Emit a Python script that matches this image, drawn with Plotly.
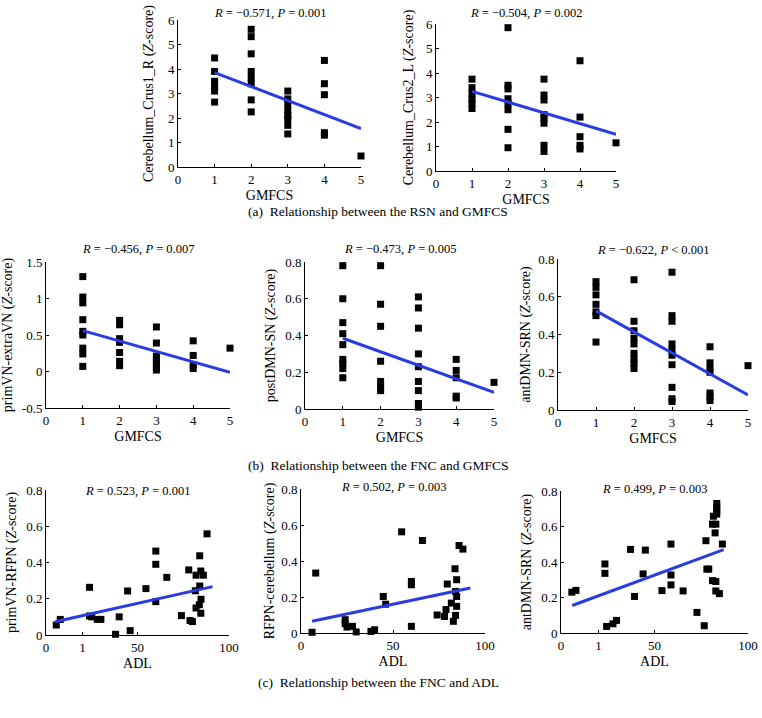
import plotly.graph_objects as go

W, H = 762, 718
FONT = "Liberation Serif"

# ---------------- data ----------------
a1_x = [1, 1, 1, 1, 1, 1, 2, 2, 2, 2, 2, 2, 2, 2, 3, 3, 3, 3, 3, 3, 3, 3, 4, 4, 4, 4, 4, 5]
a1_y = [4.45, 3.9, 3.5, 3.3, 3.1, 2.65, 5.62, 5.32, 4.62, 3.9, 3.65, 3.4, 2.74, 2.25,
        3.1, 2.78, 2.55, 2.3, 2.1, 1.95, 1.7, 1.35, 4.35, 3.4, 2.95, 1.4, 1.3, 0.45]
a1_fit_x = [1, 5]
a1_fit_y = [3.85, 1.57]

a2_x = [1, 1, 1, 1, 1, 1, 2, 2, 2, 2, 2, 2, 2, 2, 3, 3, 3, 3, 3, 3, 3, 3, 4, 4, 4, 4, 4, 5]
a2_y = [3.75, 3.4, 3.15, 2.95, 2.75, 2.55, 5.85, 3.5, 3.35, 2.95, 2.75, 2.5, 1.7, 0.95,
        3.75, 3.1, 2.9, 2.3, 2.15, 1.95, 1.05, 0.8, 4.5, 2.2, 1.4, 1.05, 0.9, 1.15]
a2_fit_x = [1, 5]
a2_fit_y = [3.25, 1.5]

b1_x = [1, 1, 1, 1, 1, 1, 1, 1, 1, 2, 2, 2, 2, 2, 2, 2, 3, 3, 3, 3, 3, 3, 3, 4, 4, 4, 4, 5]
b1_y = [1.3, 1.02, 0.94, 0.71, 0.55, 0.5, 0.32, 0.24, 0.07, 0.7, 0.64, 0.45, 0.4, 0.26, 0.14, 0.08,
        0.61, 0.39, 0.21, 0.16, 0.11, 0.06, 0.02, 0.42, 0.22, 0.09, 0.04, 0.32]
b1_fit_x = [1, 5]
b1_fit_y = [0.56, -0.01]

b2_x = [1, 1, 1, 1, 1, 1, 1, 1, 1, 2, 2, 2, 2, 2, 2, 2, 3, 3, 3, 3, 3, 3, 3, 3, 3, 4, 4, 4, 4, 4, 5]
b2_y = [0.78, 0.6, 0.47, 0.41, 0.35, 0.27, 0.25, 0.22, 0.17, 0.78, 0.57, 0.45, 0.26, 0.15, 0.12, 0.1,
        0.61, 0.55, 0.44, 0.3, 0.23, 0.15, 0.1, 0.03, 0.01, 0.27, 0.21, 0.17, 0.07, 0.06, 0.145]
b2_fit_x = [1, 5]
b2_fit_y = [0.385, 0.09]

b3_x = [1, 1, 1, 1, 1, 1, 1, 2, 2, 2, 2, 2, 2, 2, 2, 2, 3, 3, 3, 3, 3, 3, 3, 3, 3, 3,
        4, 4, 4, 4, 4, 4, 4, 5]
b3_y = [0.68, 0.65, 0.61, 0.56, 0.52, 0.5, 0.36, 0.69, 0.47, 0.42, 0.38, 0.35, 0.3, 0.27, 0.25, 0.22,
        0.73, 0.5, 0.47, 0.35, 0.32, 0.29, 0.24, 0.12, 0.06, 0.045,
        0.335, 0.25, 0.22, 0.2, 0.09, 0.07, 0.05, 0.235]
b3_fit_x = [1, 5]
b3_fit_y = [0.525, 0.08]

c1_x = [5.6, 7.8, 23.8, 23.8, 25, 28, 30, 38, 40, 44.6, 46, 54.6, 60, 60, 60, 66, 74, 78, 78.7, 80,
        81.6, 82, 82, 84, 84, 84.6, 84.7, 83.8, 84.6, 86, 88]
c1_y = [0.055, 0.086, 0.263, 0.105, 0.1, 0.086, 0.086, 0.004, 0.1, 0.243, 0.024, 0.256, 0.463, 0.39,
        0.184, 0.318, 0.107, 0.359, 0.08, 0.074, 0.244, 0.33, 0.149, 0.437, 0.27, 0.353, 0.197, 0.167,
        0.12, 0.33, 0.558]
c1_fit_x = [5, 91]
c1_fit_y = [0.073, 0.267]

c2_x = [6, 8, 24, 24, 25, 28, 30, 38, 40, 44.7, 46, 54.7, 60, 60, 60, 66, 74, 78, 78.8, 79.5,
        81.7, 82.8, 83.7, 84, 84, 84.6, 84.6, 84.6, 85.9, 88]
c2_y = [0.004, 0.333, 0.074, 0.052, 0.033, 0.037, 0.006, 0.009, 0.018, 0.203, 0.16, 0.562, 0.286,
        0.268, 0.037, 0.514, 0.1, 0.092, 0.13, 0.272, 0.166, 0.065, 0.357, 0.231, 0.098, 0.296,
        0.203, 0.148, 0.486, 0.466]
c2_fit_x = [6, 92]
c2_fit_y = [0.065, 0.25]

c3_x = [5.8, 8, 23.5, 23.5, 24.4, 27.8, 29.7, 37.2, 39.3, 43.9, 45.1, 54, 58.8, 58.8, 58.8, 65.3,
        72.7, 76.6, 77.5, 78, 79, 81, 82.8, 82.8, 84.7, 86.3, 82.4, 81, 82.8, 81.5, 83.3, 83.3, 83.3, 83.3]
c3_y = [0.23, 0.24, 0.389, 0.336, 0.037, 0.052, 0.071, 0.471, 0.206, 0.333, 0.467, 0.239, 0.501,
        0.327, 0.271, 0.237, 0.116, 0.041, 0.52, 0.36, 0.36, 0.295, 0.29, 0.237, 0.222, 0.501,
        0.564, 0.613, 0.613, 0.658, 0.73, 0.71, 0.69, 0.67]
c3_fit_x = [6, 87]
c3_fit_y = [0.155, 0.47]

titles = ["<i>R</i> = \u22120.571, <i>P</i> = 0.001", "<i>R</i> = \u22120.504, <i>P</i> = 0.002",
          "<i>R</i> = \u22120.456, <i>P</i> = 0.007", "<i>R</i> = \u22120.473, <i>P</i> = 0.005",
          "<i>R</i> = \u22120.622, <i>P</i> &lt; 0.001", "<i>R</i> = 0.523, <i>P</i> = 0.001",
          "<i>R</i> = 0.502, <i>P</i> = 0.003", "<i>R</i> = 0.499, <i>P</i> = 0.003"]
ylabels = ["Cerebellum_Crus1_R (<i>Z</i>-score)", "Cerebellum_Crus2_L (<i>Z</i>-score)",
           "primVN-extraVN (<i>Z</i>-score)", "postDMN-SN (<i>Z</i>-score)",
           "antDMN-SRN (<i>Z</i>-score)", "primVN-RFPN (<i>Z</i>-score)",
           "RFPN-cerebellum (<i>Z</i>-score)", "antDMN-SRN (<i>Z</i>-score)"]
xlabels = ["GMFCS"] * 5 + ["ADL"] * 3
captions = ["(a)  Relationship between the RSN and GMFCS",
            "(b)  Relationship between the FNC and GMFCS",
            "(c)  Relationship between the FNC and ADL"]

gm_ticks = [0, 1, 2, 3, 4, 5]
adl_tickvals = [0, 20, 50, 100]
adl_ticktext = ["0", "1", "50", "100"]
adl_tickvals2 = [0, 50, 100]
a_yticks = [0, 1, 2, 3, 4, 5, 6]
b1_yticks = [-0.5, 0, 0.5, 1, 1.5]
b1_yticktext = ["-0.5", "0", "0.5", "1", "1.5"]
z_yticks = [0, 0.2, 0.4, 0.6, 0.8]

# ---------------- layout geometry (window pixels) ----------------
boxes = [(178, 361, 20, 167), (436, 616, 24, 171),
         (46, 230, 262, 408), (305, 494, 262, 409), (558, 748, 259, 410),
         (46, 229, 490, 635), (301, 485, 489, 633), (561, 748, 491, 633)]
title_y = [13, 13, 249, 249, 250, 491, 487, 489]
caption_y = [211, 465, 682]
ytitle_standoff = [11, 9, 9, 6, 4, 6, 3, 6]


def px(x):
    return x / W


def py(y):
    return 1 - y / H


series = [(a1_x, a1_y, a1_fit_x, a1_fit_y), (a2_x, a2_y, a2_fit_x, a2_fit_y),
          (b1_x, b1_y, b1_fit_x, b1_fit_y), (b2_x, b2_y, b2_fit_x, b2_fit_y),
          (b3_x, b3_y, b3_fit_x, b3_fit_y), (c1_x, c1_y, c1_fit_x, c1_fit_y),
          (c2_x, c2_y, c2_fit_x, c2_fit_y), (c3_x, c3_y, c3_fit_x, c3_fit_y)]

xranges = [[0, 5]] * 5 + [[0, 100]] * 3
yranges = [[0, 6], [0, 6], [-0.5, 1.5], [0, 0.8], [0, 0.8], [0, 0.8], [0, 0.8], [0, 0.8]]

fig = go.Figure()
layout = dict(width=W, height=H, margin=dict(l=0, r=0, t=0, b=0, autoexpand=False),
              paper_bgcolor="white", plot_bgcolor="white", showlegend=False,
              font=dict(family=FONT, size=12, color="black"))
annotations = []

tickfont = dict(family=FONT, size=13, color="black")
for i, (box, (sx, sy, fx, fy)) in enumerate(zip(boxes, series)):
    n = "" if i == 0 else str(i + 1)
    x0, x1, y0, y1 = box
    fig.add_trace(go.Scatter(x=sx, y=sy, mode="markers", xaxis="x" + n, yaxis="y" + n,
                             marker=dict(symbol="square", size=7, color="black"),
                             cliponaxis=False))
    fig.add_trace(go.Scatter(x=fx, y=fy, mode="lines", xaxis="x" + n, yaxis="y" + n,
                             line=dict(color="rgb(40,60,225)", width=3), cliponaxis=False))
    xa = dict(domain=[px(x0), px(x1)], anchor="y" + n, range=xranges[i], automargin=False,
              showline=True, linecolor="black", linewidth=1, showgrid=False, zeroline=False,
              ticks="inside", ticklen=3, tickcolor="black", tickfont=tickfont,
              title=dict(text=xlabels[i], font=dict(family=FONT, size=14), standoff=4))
    if i < 5:
        xa.update(tickvals=gm_ticks)
    elif i == 6:
        xa.update(tickvals=adl_tickvals2)
    else:
        xa.update(tickvals=adl_tickvals, ticktext=adl_ticktext)
    ya = dict(domain=[py(y1), py(y0)], anchor="x" + n, range=yranges[i], automargin=False,
              showline=True, linecolor="black", linewidth=1, showgrid=False, zeroline=False,
              ticks="inside", ticklen=3, tickcolor="black", tickfont=tickfont,
              title=dict(text=ylabels[i], font=dict(family=FONT, size=14),
                         standoff=ytitle_standoff[i]))
    if i < 2:
        ya.update(tickvals=a_yticks)
    elif i == 2:
        ya.update(tickvals=b1_yticks, ticktext=b1_yticktext)
    else:
        ya.update(tickvals=z_yticks)
    layout["xaxis" + n] = xa
    layout["yaxis" + n] = ya
    annotations.append(dict(text=titles[i], x=px((x0 + x1) / 2), y=py(title_y[i]),
                            xref="paper", yref="paper", showarrow=False,
                            xanchor="center", yanchor="middle",
                            font=dict(family=FONT, size=12.5)))

for cap, cy in zip(captions, caption_y):
    annotations.append(dict(text=cap, x=px(378), y=py(cy), xref="paper", yref="paper",
                            showarrow=False, xanchor="center", yanchor="middle",
                            font=dict(family=FONT, size=13.5)))

layout["annotations"] = annotations
fig.update_layout(**layout)
# remove the browser's default page margin so the figure sits at the window's top-left corner
fig.write_html("out.html", config={"displayModeBar": False},
               post_script="document.body.style.margin='0';document.body.style.padding='0';"
                           "document.body.style.overflow='hidden';")
